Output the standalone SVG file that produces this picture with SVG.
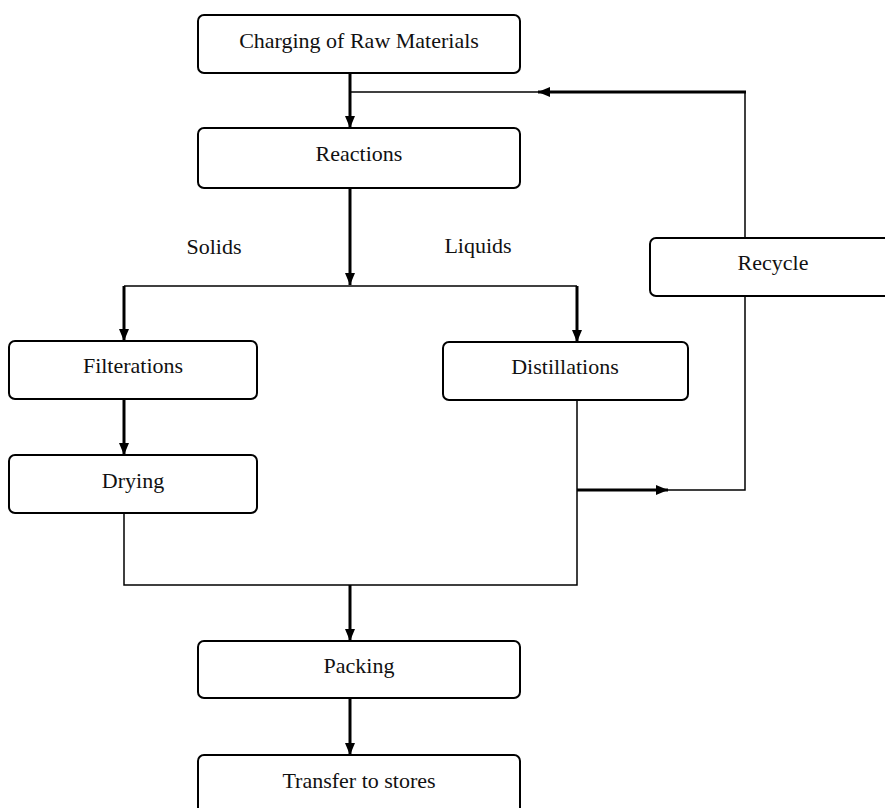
<svg xmlns="http://www.w3.org/2000/svg" width="885" height="808" viewBox="0 0 885 808">
<style>
.box{fill:#fff;stroke:#000;stroke-width:2}
.lbl{font-family:"Liberation Serif","Times New Roman",serif;font-size:22px;fill:#111;text-anchor:middle}
.thin{stroke:#000;stroke-width:1.5;fill:none}
.thick{stroke:#000;stroke-width:3;fill:none}
.arr{stroke:#000;stroke-width:3;fill:none;marker-end:url(#ah)}
</style>
<defs>
<marker id="ah" markerUnits="userSpaceOnUse" markerWidth="12" markerHeight="12" refX="12" refY="5" orient="auto">
<path d="M0,0 L12,5 L0,10 Z" fill="#000"/>
</marker>
</defs>
<rect width="885" height="808" fill="#fff"/>
<g id="connectors">
<line class="arr" x1="350" y1="73" x2="350" y2="128"/>
<line class="arr" x1="350" y1="188" x2="350" y2="285"/>
<line class="thin" x1="124" y1="286" x2="577" y2="286"/>
<line class="arr" x1="124" y1="286" x2="124" y2="341"/>
<line class="arr" x1="577" y1="286" x2="577" y2="342"/>
<line class="arr" x1="124" y1="399" x2="124" y2="455"/>
<polyline class="thin" points="124,513 124,585 577,585 577,400"/>
<line class="arr" x1="350" y1="585" x2="350" y2="641"/>
<line class="arr" x1="350" y1="698" x2="350" y2="755"/>
<line class="arr" x1="577" y1="490" x2="668" y2="490"/>
<polyline class="thin" points="668,490 745,490 745,296"/>
<line class="thin" x1="745" y1="238" x2="745" y2="92"/>
<line class="arr" x1="746" y1="92" x2="538" y2="92"/>
<line class="thin" x1="538" y1="92" x2="350" y2="92"/>
</g>
<g id="charging"><rect class="box" x="198" y="15" width="322" height="58" rx="6"/><text class="lbl" x="359" y="48">Charging of Raw Materials</text></g>
<g id="reactions"><rect class="box" x="198" y="128" width="322" height="60" rx="6"/><text class="lbl" x="359" y="161">Reactions</text></g>
<g id="recycle"><rect class="box" x="650" y="238" width="250" height="58" rx="6"/><text class="lbl" x="773" y="270">Recycle</text></g>
<g id="filterations"><rect class="box" x="9" y="341" width="248" height="58" rx="6"/><text class="lbl" x="133" y="373">Filterations</text></g>
<g id="distillations"><rect class="box" x="443" y="342" width="245" height="58" rx="6"/><text class="lbl" x="565" y="374">Distillations</text></g>
<g id="drying"><rect class="box" x="9" y="455" width="248" height="58" rx="6"/><text class="lbl" x="133" y="488">Drying</text></g>
<g id="packing"><rect class="box" x="198" y="641" width="322" height="57" rx="6"/><text class="lbl" x="359" y="673">Packing</text></g>
<g id="transfer"><rect class="box" x="198" y="755" width="322" height="60" rx="6"/><text class="lbl" x="359" y="788">Transfer to stores</text></g>
<g id="labels">
<text class="lbl" x="214" y="254">Solids</text>
<text class="lbl" x="478" y="253">Liquids</text>
</g>
</svg>
